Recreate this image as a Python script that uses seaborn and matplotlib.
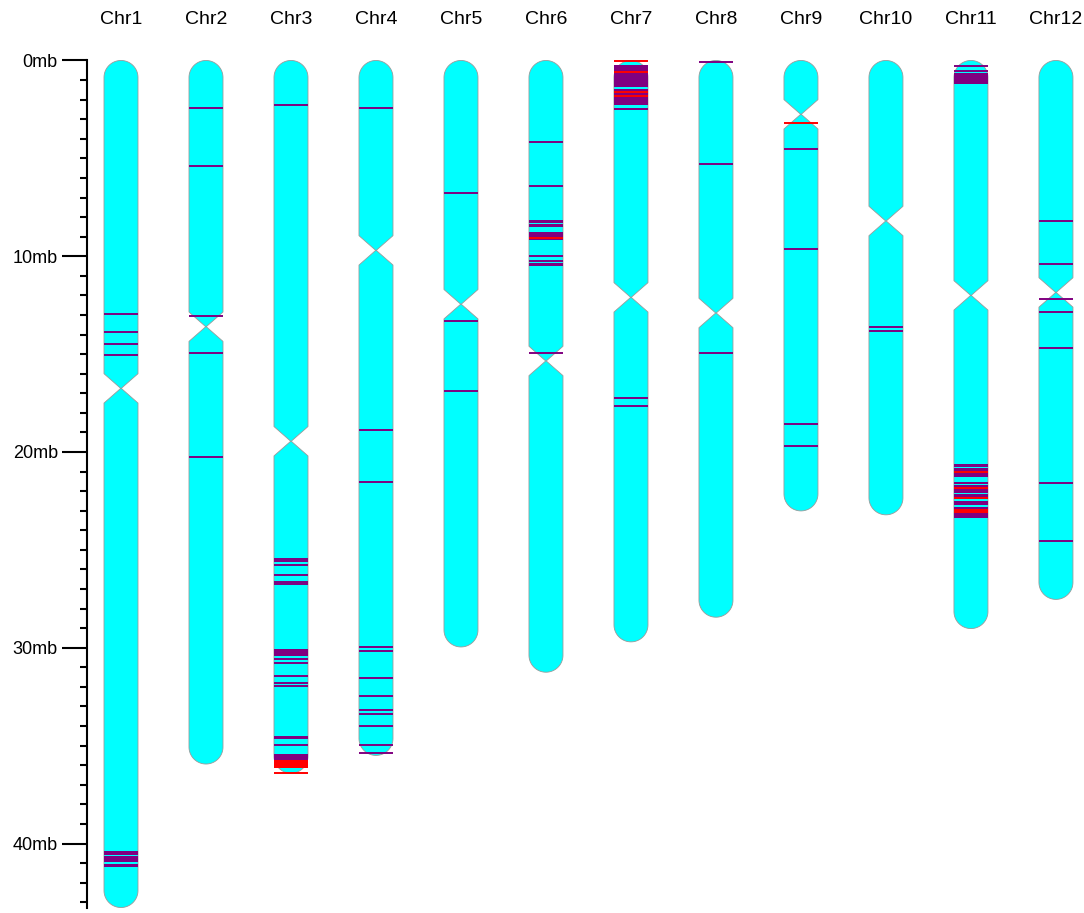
import numpy as np
import matplotlib
matplotlib.use("Agg")
import matplotlib.pyplot as plt
from matplotlib.patches import Polygon, Rectangle
import seaborn as sns

chroms = ["Chr1", "Chr2", "Chr3", "Chr4", "Chr5", "Chr6",
          "Chr7", "Chr8", "Chr9", "Chr10", "Chr11", "Chr12"]
chrom_len = [43.27, 35.94, 36.41, 35.50, 29.96, 31.25,
             29.70, 28.44, 23.01, 23.21, 29.02, 27.53]
centromere = [16.75, 13.6, 19.45, 9.7, 12.45, 15.35,
              12.1, 12.9, 2.75, 8.2, 12.0, 11.85]

# marks in mb: (start, end, kind)  p = purple, r = red
marks_chr1 = [(12.93, 12.93, "p"), (13.87, 13.87, "p"), (14.46, 14.46, "p"), (15.06, 15.06, "p"),
              (40.38, 40.57, "p"), (40.65, 40.93, "p"), (41.03, 41.18, "p")]
marks_chr2 = [(2.41, 2.41, "p"), (5.38, 5.38, "p"), (13.04, 13.04, "p"), (14.96, 14.96, "p"),
              (20.26, 20.26, "p")]
marks_chr3 = [(2.29, 2.29, "p"), (25.45, 25.45, "p"), (25.58, 25.58, "p"), (25.79, 25.79, "p"),
              (26.28, 26.28, "p"), (26.62, 26.62, "p"), (26.74, 26.74, "p"), (30.04, 30.42, "p"),
              (30.6, 30.6, "p"), (30.79, 30.79, "p"), (31.44, 31.44, "p"), (31.81, 31.81, "p"),
              (31.96, 31.96, "p"), (34.55, 34.55, "p"), (34.63, 34.63, "p"), (34.99, 34.99, "p"),
              (35.45, 35.72, "p"), (35.72, 36.16, "r"), (36.4, 36.4, "r")]
marks_chr4 = [(2.41, 2.41, "p"), (18.9, 18.9, "p"), (21.52, 21.52, "p"), (29.96, 29.96, "p"),
              (30.19, 30.19, "p"), (31.57, 31.57, "p"), (32.47, 32.47, "p"), (33.17, 33.17, "p"),
              (33.39, 33.39, "p"), (33.99, 33.99, "p"), (34.97, 34.97, "p"), (35.38, 35.38, "p")]
marks_chr5 = [(6.77, 6.77, "p"), (13.32, 13.32, "p"), (16.89, 16.89, "p")]
marks_chr6 = [(4.18, 4.18, "p"), (6.42, 6.42, "p"), (8.14, 8.28, "p"), (8.36, 8.5, "p"),
              (8.77, 9.18, "p"), (9.05, 9.05, "r"), (9.97, 9.97, "p"), (10.24, 10.24, "p"),
              (10.37, 10.49, "p"), (14.96, 14.96, "p")]
marks_chr7 = [(0.23, 1.35, "p"), (1.45, 2.27, "p"), (2.41, 2.53, "p"), (0.05, 0.05, "r"),
              (0.6, 0.6, "r"), (1.62, 1.62, "r"), (1.81, 1.81, "r"),
              (17.26, 17.26, "p"), (17.64, 17.64, "p")]
marks_chr8 = [(0.06, 0.06, "p"), (5.27, 5.27, "p"), (14.95, 14.95, "p")]
marks_chr9 = [(3.19, 3.19, "r"), (4.5, 4.5, "p"), (9.63, 9.63, "p"), (18.55, 18.55, "p"),
              (19.67, 19.67, "p")]
marks_chr10 = [(13.63, 13.63, "p"), (13.84, 13.84, "p")]
marks_chr11 = [(0.3, 0.3, "p"), (0.55, 0.55, "p"), (0.65, 1.2, "p"),
               (20.59, 20.67, "p"), (20.74, 20.74, "p"), (20.81, 21.27, "p"), (21.54, 21.64, "p"),
               (21.71, 22.08, "p"), (22.15, 22.4, "p"), (22.51, 22.69, "p"), (22.8, 22.9, "p"),
               (23.1, 23.36, "p"), (21.0, 21.0, "r"), (21.82, 21.9, "r"), (22.29, 22.39, "r"),
               (22.93, 23.1, "r")]
marks_chr12 = [(8.2, 8.2, "p"), (10.4, 10.4, "p"), (12.2, 12.2, "p"), (12.85, 12.85, "p"),
               (14.7, 14.7, "p"), (21.6, 21.6, "p"), (24.55, 24.55, "p")]

all_marks = [marks_chr1, marks_chr2, marks_chr3, marks_chr4, marks_chr5, marks_chr6,
             marks_chr7, marks_chr8, marks_chr9, marks_chr10, marks_chr11, marks_chr12]

mark_colors = {"p": "#800080", "r": "#ff0000"}

sns.set_theme(style="white")
plt.rcParams["font.family"] = ["Liberation Sans", "DejaVu Sans"]

fig = plt.figure(figsize=(10.84, 9.13), dpi=100)
ax = fig.add_axes([87 / 1084, 0, 1 - 87 / 1084, (913 - 54.6) / 913])
ax.set_xlim(-0.4, 11.33)
ax.set_ylim(43.55, -0.3)

W = 0.2      # half width of a chromosome
H = 0.75     # half length of centromere constriction, mb

# make the end caps round on screen
o = ax.transData.transform((0, 0))
sx = ax.transData.transform((1, 0))[0] - o[0]
sy = abs(ax.transData.transform((0, 1))[1] - o[1])
ry = W * sx / sy


def chrom_shape(c, length, cen):
    a = np.linspace(np.pi, 0, 40)
    top = np.c_[c + W * np.cos(a), ry - ry * np.sin(a)]
    a = np.linspace(0, np.pi, 40)
    bot = np.c_[c + W * np.cos(a), length - ry + ry * np.sin(a)]
    right = [(c + W, cen - H), (c + 0.003, cen), (c + W, cen + H)]
    left = [(c - W, cen + H), (c - 0.003, cen), (c - W, cen - H)]
    return np.vstack([top, right, bot, left])


for i, name in enumerate(chroms):
    pts = chrom_shape(i, chrom_len[i], centromere[i])
    ax.add_patch(Polygon(pts, closed=True, facecolor="#00ffff",
                         edgecolor="#9a9a9a", linewidth=0.6, zorder=2))
    for start, end, kind in all_marks[i]:
        col = mark_colors[kind]
        if end - start < 0.08:
            ax.hlines(start, i - W, i + W, color=col, linewidth=1.4, zorder=3)
        else:
            ax.add_patch(Rectangle((i - W, start), 2 * W, end - start,
                                   facecolor=col, edgecolor="none", zorder=3))

ax.set_xticks(range(len(chroms)))
ax.set_xticklabels(chroms, fontsize=14, color="black")
ax.xaxis.tick_top()
ax.tick_params(axis="x", length=0, pad=19)

ax.set_yticks([0, 10, 20, 30, 40])
ax.set_yticklabels(["0mb", "10mb", "20mb", "30mb", "40mb"], fontsize=13, color="black")
ax.set_yticks(np.arange(0, 44, 1), minor=True)
ax.tick_params(axis="y", which="major", direction="out", length=18, width=1.5,
               color="black", pad=3, left=True)
ax.tick_params(axis="y", which="minor", direction="out", length=5, width=1.5,
               color="black", left=True)

sns.despine(ax=ax, top=True, right=True, bottom=True)
ax.spines["left"].set_color("black")
ax.spines["left"].set_linewidth(1.5)
ax.spines["left"].set_bounds(0, 43.27)
ax.grid(False)

fig.savefig("out.png", dpi=100, facecolor="white")
